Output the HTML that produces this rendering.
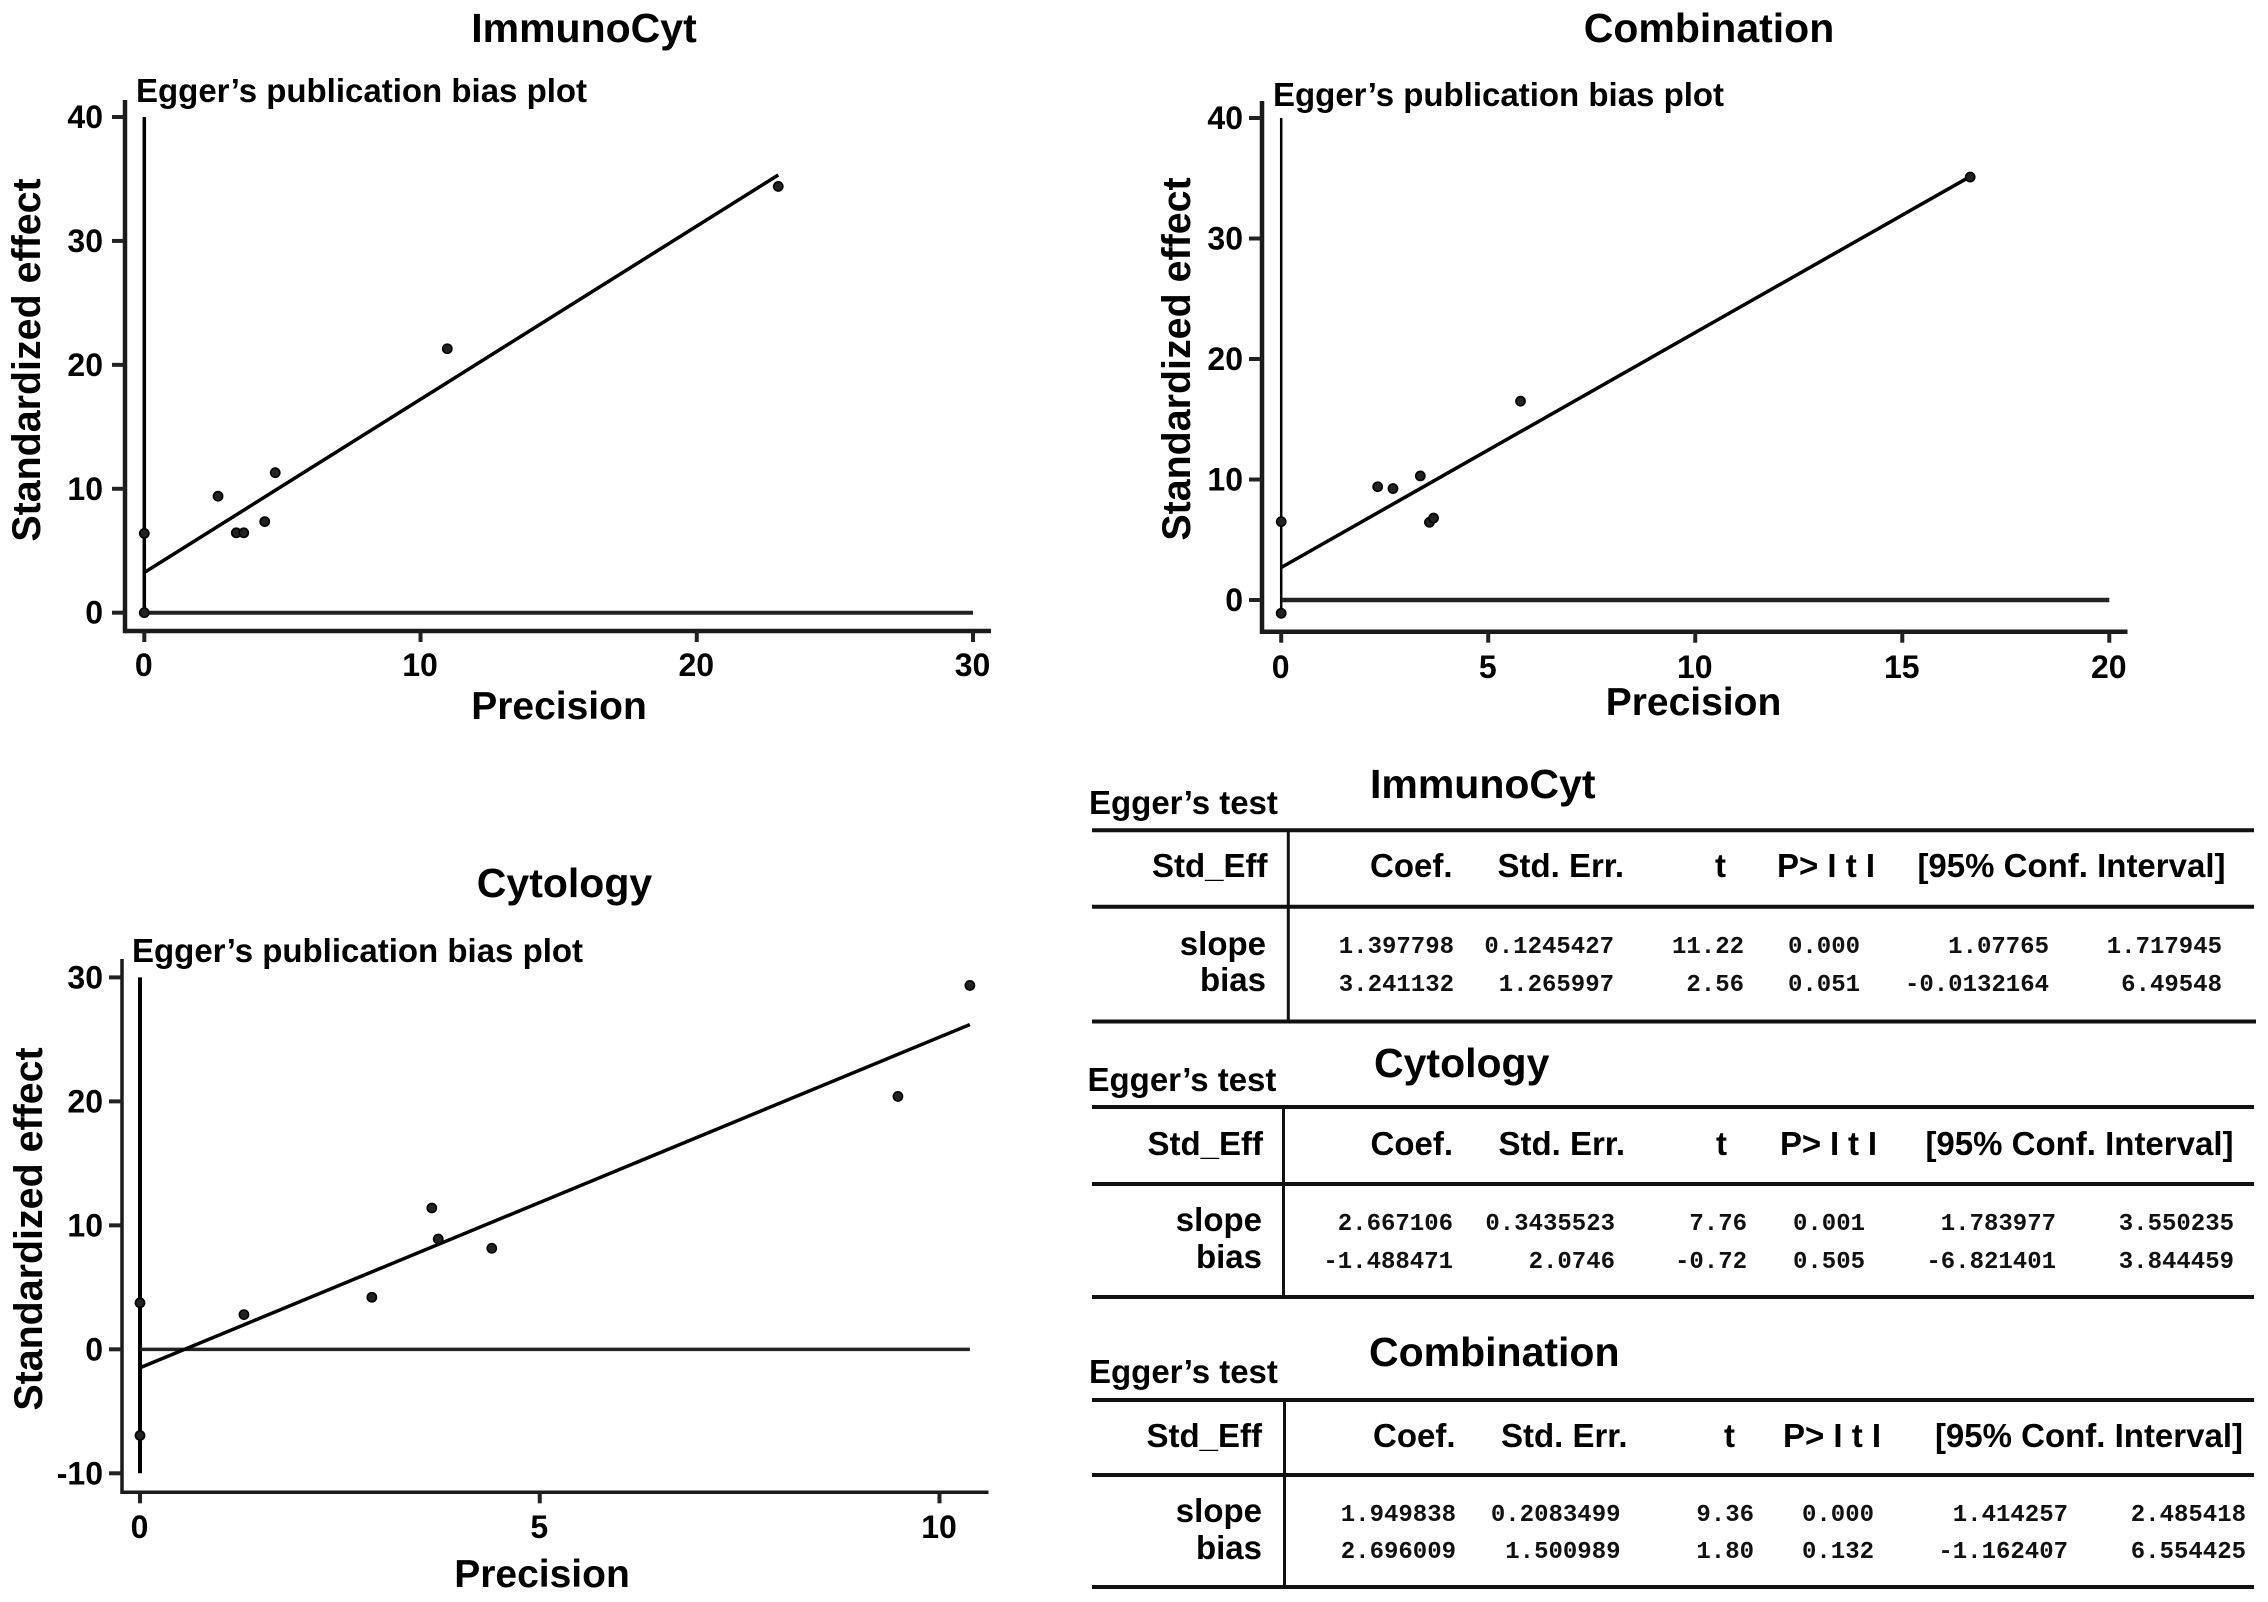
<!DOCTYPE html>
<html lang="en">
<head>
<meta charset="utf-8">
<title>Egger's publication bias plots</title>
<style>
html,body{margin:0;padding:0;background:#fff;}
svg{display:block;}
text{font-family:"Liberation Sans",Arial,sans-serif;font-weight:700;fill:#000;}
.title{font-size:41px;text-anchor:middle;}
.title-s{font-size:41px;}
.sub{font-size:33px;}
.axt{font-size:39px;text-anchor:middle;}
.axy{font-size:39.4px;text-anchor:middle;}
.tick{font-size:32px;}
.hd{font-size:33px;text-anchor:end;}
.lb{font-size:33px;text-anchor:end;}
.num{font-family:"Liberation Mono",monospace;font-size:24px;text-anchor:end;fill:#111;}
.rule{stroke:#111;stroke-width:4;}
.vr{stroke:#111;stroke-width:3;}
</style>
</head>
<body>
<svg xmlns="http://www.w3.org/2000/svg" width="2268" height="1602" viewBox="0 0 2268 1602">
<rect width="2268" height="1602" fill="#fff"/>

<!-- ImmunoCyt chart -->
<g id="chart-immunocyt">
<text class="title" x="584" y="42">ImmunoCyt</text>
<text class="sub" x="136" y="102">Egger’s publication bias plot</text>
<text class="axt" x="559" y="719">Precision</text>
<text class="axy" transform="translate(40,360) rotate(-90)">Standardized effect</text>
</g>

<!-- Combination chart -->
<g id="chart-combination">
<text class="title" x="1709" y="42">Combination</text>
<text class="sub" x="1273" y="106">Egger’s publication bias plot</text>
<text class="axt" x="1693.5" y="715">Precision</text>
<text class="axy" transform="translate(1190,359) rotate(-90)">Standardized effect</text>
</g>

<!-- Cytology chart -->
<g id="chart-cytology">
<text class="title" x="564.5" y="897">Cytology</text>
<text class="sub" x="132" y="962">Egger’s publication bias plot</text>
<text class="axt" x="542" y="1587">Precision</text>
<text class="axy" transform="translate(42,1229) rotate(-90)">Standardized effect</text>
</g>

<!-- ImmunoCyt table -->
<g>
<text class="sub" x="1089" y="814">Egger’s test</text>
<text class="title-s" x="1370" y="798">ImmunoCyt</text>
<line class="rule" x1="1092" x2="2254" y1="830.3" y2="830.3"/>
<line class="rule" x1="1092" x2="2254" y1="906.7" y2="906.7"/>
<line class="rule" x1="1092" x2="2256" y1="1021.5" y2="1021.5"/>
<line class="vr" x1="1288.3" x2="1288.3" y1="830" y2="1022"/>
<text class="hd" x="1267.5" y="877">Std_Eff</text>
<text class="hd" x="1452.5" y="877">Coef.</text>
<text class="hd" x="1624" y="877">Std. Err.</text>
<text class="hd" x="1726" y="877">t</text>
<text class="hd" x="1875" y="877" textLength="98">P&gt; I t I</text>
<text class="hd" x="2225.5" y="877">[95% Conf. Interval]</text>
<text class="lb" x="1266" y="955">slope</text>
<text class="lb" x="1266" y="991">bias</text>
<text class="num" x="1454" y="953">1.397798</text>
<text class="num" x="1614" y="953">0.1245427</text>
<text class="num" x="1744" y="953">11.22</text>
<text class="num" x="1860" y="953">0.000</text>
<text class="num" x="2049" y="953">1.07765</text>
<text class="num" x="2222" y="953">1.717945</text>
<text class="num" x="1454" y="991">3.241132</text>
<text class="num" x="1614" y="991">1.265997</text>
<text class="num" x="1744" y="991">2.56</text>
<text class="num" x="1860" y="991">0.051</text>
<text class="num" x="2049" y="991">-0.0132164</text>
<text class="num" x="2222" y="991">6.49548</text>
</g>

<!-- Cytology table -->
<g>
<text class="sub" x="1087.5" y="1091">Egger’s test</text>
<text class="title-s" x="1374" y="1077">Cytology</text>
<line class="rule" x1="1092" x2="2254" y1="1107" y2="1107"/>
<line class="rule" x1="1092" x2="2254" y1="1184" y2="1184"/>
<line class="rule" x1="1092" x2="2254" y1="1297" y2="1297"/>
<line class="vr" x1="1283.5" x2="1283.5" y1="1107" y2="1297"/>
<text class="hd" x="1263" y="1155">Std_Eff</text>
<text class="hd" x="1453" y="1155">Coef.</text>
<text class="hd" x="1625" y="1155">Std. Err.</text>
<text class="hd" x="1727" y="1155">t</text>
<text class="hd" x="1877" y="1155" textLength="97">P&gt; I t I</text>
<text class="hd" x="2233.5" y="1155">[95% Conf. Interval]</text>
<text class="lb" x="1262" y="1231">slope</text>
<text class="lb" x="1262" y="1268">bias</text>
<text class="num" x="1453" y="1230">2.667106</text>
<text class="num" x="1615" y="1230">0.3435523</text>
<text class="num" x="1747" y="1230">7.76</text>
<text class="num" x="1865" y="1230">0.001</text>
<text class="num" x="2056" y="1230">1.783977</text>
<text class="num" x="2234" y="1230">3.550235</text>
<text class="num" x="1453" y="1268">-1.488471</text>
<text class="num" x="1615" y="1268">2.0746</text>
<text class="num" x="1747" y="1268">-0.72</text>
<text class="num" x="1865" y="1268">0.505</text>
<text class="num" x="2056" y="1268">-6.821401</text>
<text class="num" x="2234" y="1268">3.844459</text>
</g>

<!-- Combination table -->
<g>
<text class="sub" x="1089" y="1383">Egger’s test</text>
<text class="title-s" x="1369" y="1366">Combination</text>
<line class="rule" x1="1092" x2="2254" y1="1400" y2="1400"/>
<line class="rule" x1="1092" x2="2254" y1="1475" y2="1475"/>
<line class="rule" x1="1092" x2="2254" y1="1587" y2="1587"/>
<line class="vr" x1="1284.5" x2="1284.5" y1="1400" y2="1587"/>
<text class="hd" x="1262" y="1447">Std_Eff</text>
<text class="hd" x="1455.5" y="1447">Coef.</text>
<text class="hd" x="1627.5" y="1447">Std. Err.</text>
<text class="hd" x="1735" y="1447">t</text>
<text class="hd" x="1881" y="1447" textLength="98">P&gt; I t I</text>
<text class="hd" x="2243" y="1447">[95% Conf. Interval]</text>
<text class="lb" x="1262" y="1522">slope</text>
<text class="lb" x="1262" y="1559">bias</text>
<text class="num" x="1456" y="1521">1.949838</text>
<text class="num" x="1620.5" y="1521">0.2083499</text>
<text class="num" x="1754" y="1521">9.36</text>
<text class="num" x="1874" y="1521">0.000</text>
<text class="num" x="2068" y="1521">1.414257</text>
<text class="num" x="2246" y="1521">2.485418</text>
<text class="num" x="1456" y="1558">2.696009</text>
<text class="num" x="1620.5" y="1558">1.500989</text>
<text class="num" x="1754" y="1558">1.80</text>
<text class="num" x="1874" y="1558">0.132</text>
<text class="num" x="2068" y="1558">-1.162407</text>
<text class="num" x="2246" y="1558">6.554425</text>
</g>
</svg>

<script>
// ImmunoCyt data
const immunocytPrecision = [0, 0, 2.67, 3.33, 3.6, 4.36, 4.74, 10.97, 22.95];
const immunocytEffect = [6.4, 0, 9.4, 6.45, 6.45, 7.35, 11.3, 21.3, 34.4];
const immunocytXTicks = [0, 10, 20, 30];
const immunocytYTicks = [0, 10, 20, 30, 40];
const immunocytBias = 3.241132;
const immunocytSlope = 1.397798;

// Combination data
const combinationPrecision = [0, 0, 2.33, 2.7, 3.36, 3.58, 3.68, 5.78, 16.64];
const combinationEffect = [6.5, -1.1, 9.4, 9.25, 10.3, 6.45, 6.8, 16.5, 35.1];
const combinationXTicks = [0, 5, 10, 15, 20];
const combinationYTicks = [0, 10, 20, 30, 40];
const combinationBias = 2.696009;
const combinationSlope = 1.949838;

// Cytology data
const cytologyPrecision = [0, 0, 1.3, 2.9, 3.65, 3.73, 4.4, 9.48, 10.38];
const cytologyEffect = [3.75, -6.95, 2.8, 4.2, 11.4, 8.9, 8.15, 20.4, 29.35];
const cytologyXTicks = [0, 5, 10];
const cytologyYTicks = [-10, 0, 10, 20, 30];
const cytologyBias = -1.488471;
const cytologySlope = 2.667106;

const NS = 'http://www.w3.org/2000/svg';

function linearScale(d0, d1, r0, r1) {
  return function (v) { return r0 + (v - d0) * (r1 - r0) / (d1 - d0); };
}

function addLine(parent, x1, y1, x2, y2, width, color) {
  const el = document.createElementNS(NS, 'line');
  el.setAttribute('x1', x1);
  el.setAttribute('y1', y1);
  el.setAttribute('x2', x2);
  el.setAttribute('y2', y2);
  el.setAttribute('stroke', color);
  el.setAttribute('stroke-width', width);
  parent.appendChild(el);
  return el;
}

function drawChart(name, precision, effect, xTicks, yTicks, bias, slope, frame) {
  const root = document.getElementById('chart-' + name);
  const sx = linearScale(xTicks[0], xTicks[xTicks.length - 1], frame.xPx0, frame.xPx1);
  const sy = linearScale(yTicks[0], yTicks[yTicks.length - 1], frame.yPx0, frame.yPx1);

  const ySpine = addLine(root, frame.spineX, frame.spineTop, frame.spineX, frame.axisY + frame.spineW / 2, frame.spineW, '#1a1a1a');
  
  
  const xSpine = addLine(root, frame.spineX, frame.axisY, frame.axisEnd, frame.axisY, frame.spineW, '#1a1a1a');
  
  

  xTicks.forEach(function (t) {
    const mark = addLine(root, sx(t), frame.axisY, sx(t), frame.axisY + 11, 4, '#222');
    
    
    const label = document.createElementNS(NS, 'text');
    label.setAttribute('class', 'tick');
    label.setAttribute('text-anchor', 'middle');
    label.setAttribute('x', sx(t) - 0.5);
    label.setAttribute('y', frame.xLabelY);
    label.textContent = String(t);
    
    
    root.appendChild(label);
  });

  yTicks.forEach(function (t) {
    const mark = addLine(root, frame.spineX - 13, sy(t), frame.spineX, sy(t), 4, '#222');
    
    
    const label = document.createElementNS(NS, 'text');
    label.setAttribute('class', 'tick');
    label.setAttribute('text-anchor', 'end');
    label.setAttribute('x', frame.yLabelX);
    label.setAttribute('y', sy(t) + 11);
    label.textContent = String(t);
    
    
    root.appendChild(label);
  });

  const maxP = Math.max.apply(null, precision);
  const baseEnd = Math.max(xTicks[xTicks.length - 1], maxP);
  const vLow = Math.min(yTicks[0], Math.min.apply(null, effect));
  const vHigh = yTicks[yTicks.length - 1];

  const vertical = addLine(root, sx(0), sy(vLow), sx(0), sy(vHigh), frame.vWidth, '#000');
  
  
  const baseline = addLine(root, sx(0), sy(0), sx(baseEnd), sy(0), frame.hWidth, '#222');
  
  
  const fit = addLine(root, sx(0), sy(bias), sx(maxP), sy(bias + slope * maxP), 3.5, '#000');
  
  

  precision.forEach(function (p, i) {
    const dot = document.createElementNS(NS, 'circle');
    dot.setAttribute('cx', sx(p));
    dot.setAttribute('cy', sy(effect[i]));
    dot.setAttribute('r', 4.6);
    dot.setAttribute('fill', '#222');
    dot.setAttribute('stroke', '#000');
    dot.setAttribute('stroke-width', 1.6);
    
    
    root.appendChild(dot);
  });
}

drawChart('immunocyt', immunocytPrecision, immunocytEffect, immunocytXTicks, immunocytYTicks, immunocytBias, immunocytSlope, {
  xPx0: 144.3, xPx1: 973, yPx0: 612.7, yPx1: 117,
  spineX: 125, spineTop: 100, axisY: 631, axisEnd: 991, spineW: 4.5,
  xLabelY: 676, yLabelX: 103, vWidth: 3.5, hWidth: 4
});
drawChart('combination', combinationPrecision, combinationEffect, combinationXTicks, combinationYTicks, combinationBias, combinationSlope, {
  xPx0: 1281.2, xPx1: 2109.3, yPx0: 600, yPx1: 118,
  spineX: 1262, spineTop: 101, axisY: 631.7, axisEnd: 2127.5, spineW: 4.5,
  xLabelY: 678, yLabelX: 1243, vWidth: 2.5, hWidth: 4.5
});
drawChart('cytology', cytologyPrecision, cytologyEffect, cytologyXTicks, cytologyYTicks, cytologyBias, cytologySlope, {
  xPx0: 140, xPx1: 939.5, yPx0: 1473.3, yPx1: 977.4,
  spineX: 122, spineTop: 959, axisY: 1492.3, axisEnd: 988.5, spineW: 3.5,
  xLabelY: 1538, yLabelX: 103, vWidth: 4, hWidth: 3.5
});
</script>
</body>
</html>
